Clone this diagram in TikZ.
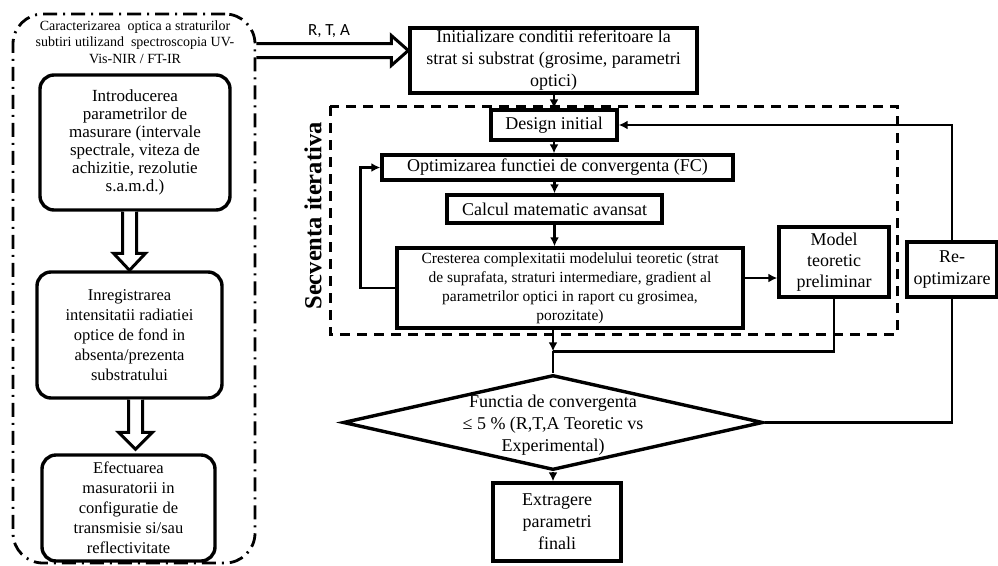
\documentclass[tikz,border=0pt]{standalone}
\usepackage{fontspec}
\setmainfont{Liberation Serif}
\newfontfamily\rtafont{Carlito}
\usetikzlibrary{shapes.geometric,calc,arrows.meta}

\begin{document}
\begin{tikzpicture}[x=1pt,y=-1pt,>={Latex[length=9pt,width=9pt]},line width=2.8pt,
   box/.style={draw,line width=3.4pt,inner sep=2pt,align=center,font=\rmfamily\fontsize{18}{22}\selectfont},
   rbox/.style={box,rounded corners=14pt,font=\rmfamily\fontsize{16.5}{20}\selectfont},
   blk/.style={draw,line width=3pt,fill=white,line join=miter}]
   \useasboundingbox (0,0) rectangle (998,565);

   % left column
   \node[draw,rounded corners=30pt,line width=2.8pt,dash pattern=on 14pt off 6pt on 2pt off 6pt,
         minimum width=242,minimum height=549] (cont) at (134,288.5) {};
   \node[align=center,font=\rmfamily\fontsize{14}{16.5}\selectfont] (titlu) at (135,42)
      {Caracterizarea\ \ optica a straturilor\\subtiri utilizand\ \ spectroscopia UV-\\Vis-NIR / FT-IR};
   \node[rbox,minimum width=190,minimum height=135,font=\rmfamily\fontsize{17}{18}\selectfont] (intro) at (135,142.5)
      {Introducerea\\parametrilor de\\masurare (intervale\\spectrale, viteza de\\achizitie, rezolutie\\s.a.m.d.)};
   \node[rbox,minimum width=185,minimum height=126] (inreg) at (129.5,335)
      {Inregistrarea\\intensitatii radiatiei\\optice de fond in\\absenta/prezenta\\substratului};
   \node[rbox,minimum width=173,minimum height=106] (efect) at (128.5,508)
      {Efectuarea\\masuratorii in\\configuratie de\\transmisie si/sau\\reflectivitate};

   \draw[blk] ($(intro.south -| inreg.north)+(-7,0)$) -- ($(inreg.north)+(-7,-17)$) -- ($(inreg.north)+(-16,-17)$)
      -- (inreg.north) -- ($(inreg.north)+(16,-17)$) -- ($(inreg.north)+(7,-17)$) -- ($(intro.south -| inreg.north)+(7,0)$);
   \coordinate (t2) at ($(efect.north)+(7,-4)$);
   \draw[blk] ($(inreg.south -| t2)+(-7,0)$) -- ($(t2)+(-7,-17)$) -- ($(t2)+(-17,-17)$)
      -- (t2) -- ($(t2)+(17,-17)$) -- ($(t2)+(7,-17)$) -- ($(inreg.south -| t2)+(7,0)$);

   % R, T, A
   \node[box,minimum width=287,minimum height=65] (init) at (553.5,60.5)
      {Initializare conditii referitoare la\\strat si substrat (grosime, parametri\\optici)};
   \coordinate (rt) at ($(init.west)+(0,-10)$);
   \draw[blk] ($(cont.east |- rt)+(0,-7)$) -- ($(rt)+(-17,-7)$) -- ($(rt)+(-17,-15)$)
      -- (rt) -- ($(rt)+(-17,15)$) -- ($(rt)+(-17,7)$) -- ($(cont.east |- rt)+(0,7)$);
   \node[font=\rtafont\fontsize{17}{20}\selectfont] (rta) at (329,31) {R, T, A};

   % secventa iterativa
   \draw[line width=3pt,dash pattern=on 10pt off 7pt] (330,106) rectangle (897,334);
   \node[rotate=90,font=\rmfamily\bfseries\fontsize{24.5}{28}\selectfont] (secv) at (313,216) {Secventa iterativa};

   \node[box,minimum width=126,minimum height=30] (design) at (554,125) {Design initial};
   \node[box,minimum width=351,minimum height=25] (optim) at (557.5,167.5) {Optimizarea functiei de convergenta (FC)};
   \node[box,minimum width=215,minimum height=28] (calcul) at (554.5,209) {Calcul matematic avansat};
   \node[box,minimum width=346,minimum height=80,font=\rmfamily\fontsize{15.5}{19}\selectfont] (crest) at (570,288)
      {Cresterea\ complexitatii\ modelului teoretic (strat\\de suprafata,\ straturi intermediare,\ gradient al\\parametrilor\ optici in raport cu grosimea,\\porozitate)};
   \node[box,minimum width=110,minimum height=70,font=\rmfamily\fontsize{18}{21}\selectfont] (model) at (834,262) {Model\\teoretic\\preliminar};
   \node[box,minimum width=90,minimum height=55] (reopt) at (952,269.5) {Re-\\optimizare};

   \node[draw,diamond,line width=3.4pt,minimum width=420,minimum height=95,inner sep=0pt] (fc) at (553,422.5) {};
   \node[align=center,font=\rmfamily\fontsize{18}{22}\selectfont] (fctext) at ($(fc)+(0,3)$)
      {Functia de convergenta\\≤ 5 \% (R,T,A Teoretic vs\\Experimental)};
   \node[box,minimum width=128,minimum height=78] (extr) at (557,522) {Extragere\\parametri\\finali};

   \path (init.south -| design.north) edge[->] (design.north);
   \path (design.south) edge[->] (design.south |- optim.north);
   \path (optim.south -| calcul.north) edge[->] (calcul.north);
   \path (calcul.south) edge[->] (calcul.south |- crest.north);
   \draw[->] (crest.west) -| ($(optim.west)+(-20,0)$) -- (optim.west);
   \coordinate (cm) at ($(crest.east)+(0,-10)$);
   \path (cm) edge[->] (cm -| model.west);

   \coordinate (jn) at ($(fc.north)+(0,-22)$);
   \path (crest.south -| jn) edge[->] (jn);
   \draw (jn) -- (fc.north);
   \draw (model.south) |- (jn);
   \draw (fc.east) -| (reopt.south);
   \draw[->] (reopt.north) |- (design.east);
   \path (fc.south) edge[->] (extr.north -| fc.south);

\end{tikzpicture}
\end{document}
